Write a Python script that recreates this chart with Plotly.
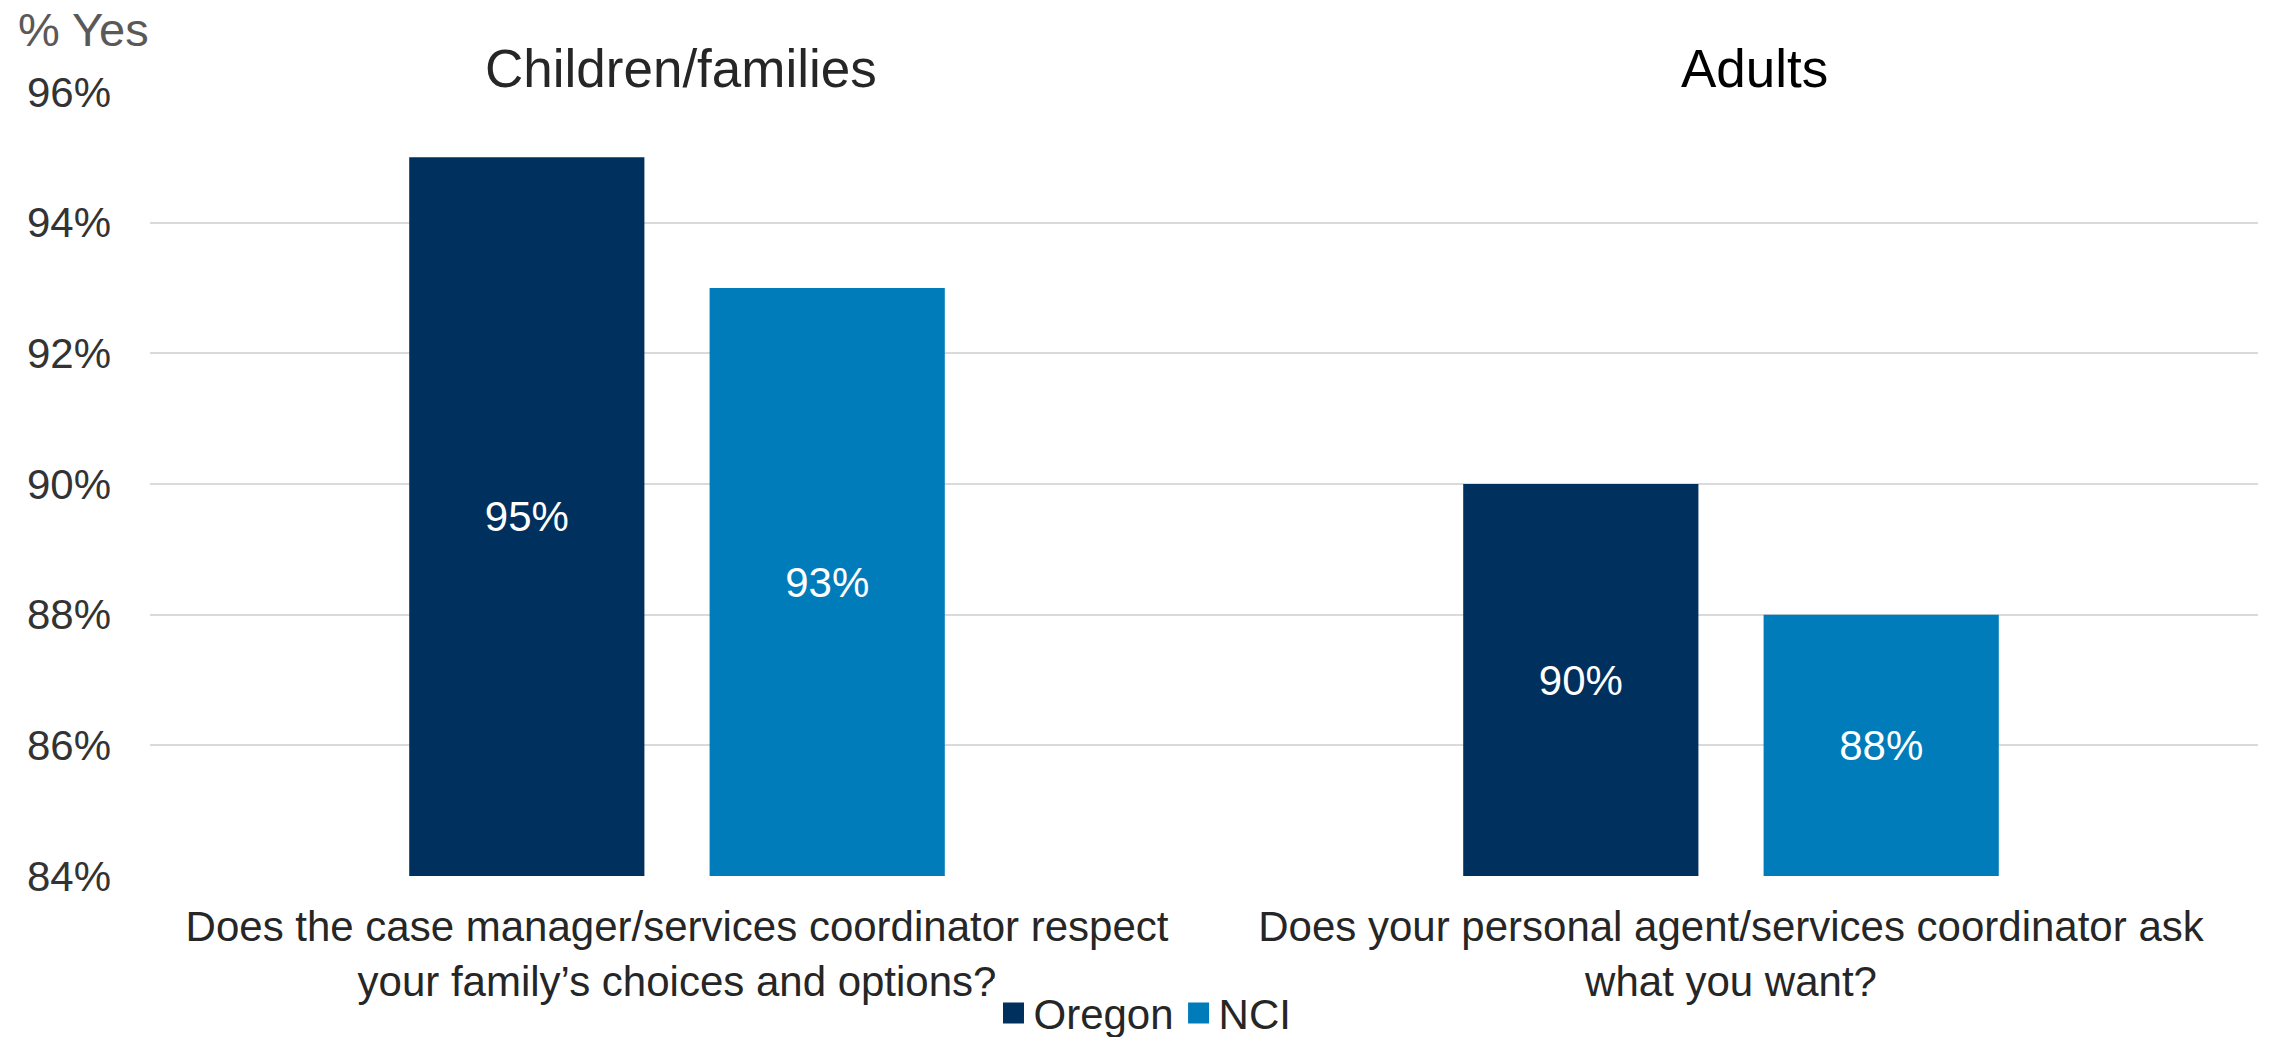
import plotly.graph_objects as go

questions = [
    "Does the case manager/services coordinator respect<br>your family’s choices and options?",
    "Does your personal agent/services coordinator ask<br>what you want?",
]
group_titles = ["Children/families", "Adults"]
series_names = ["Oregon", "NCI"]
oregon_values = [95, 90]
nci_values = [93, 88]
y_min, y_max = 84, 96
y_ticks = [84, 86, 88, 90, 92, 94, 96]
y_title = "% Yes"

colors = {"Oregon": "#00305E", "NCI": "#007CBA"}
FONT = "Liberation Sans, Arial, sans-serif"

fig = go.Figure()
for name, vals in zip(series_names, [oregon_values, nci_values]):
    fig.add_trace(go.Bar(
        x=questions, y=[v - y_min for v in vals], base=y_min, name=name,
        marker=dict(color=colors[name], line=dict(width=0)),
        text=[f"{v}%" for v in vals], textposition="inside", insidetextanchor="middle",
        textfont=dict(family=FONT, size=42, color="white"),
        textangle=0, showlegend=False, hovertemplate="%{x}: " + "%{text}<extra>" + name + "</extra>",
    ))
# legend entries with larger square swatches
for name in series_names:
    fig.add_trace(go.Scatter(
        x=[None], y=[None], mode="markers", name=name,
        marker=dict(symbol="square", size=16, color=colors[name],
                    line=dict(width=6, color=colors[name])),
        showlegend=True,
    ))

for q, t, c, dx in zip(questions, group_titles, ["#262626", "#000000"], [4, 23]):
    fig.add_annotation(x=q, y=y_max, xref="x", yref="y", text=t, showarrow=False,
                       xanchor="center", yanchor="bottom", yshift=-8, xshift=dx,
                       font=dict(family=FONT, size=53, color=c))

fig.add_annotation(x=0, y=1, xref="paper", yref="paper", text=y_title, showarrow=False,
                   xanchor="left", yanchor="middle", xshift=-134, yshift=63,
                   font=dict(family=FONT, size=47, color="#595959"))

fig.update_layout(
    width=2270, height=1037,
    margin=dict(l=150, r=12, t=92, b=161, autoexpand=False),
    paper_bgcolor="white", plot_bgcolor="white",
    barmode="group", bargap=0.43, bargroupgap=0.217,
    font=dict(family=FONT, size=42, color="#404040"),
    showlegend=True,
    legend=dict(orientation="h", x=0.472, xanchor="center", y=-0.175, yanchor="middle",
                font=dict(family=FONT, size=42, color="#262626"),
                itemwidth=30, tracegroupgap=0, traceorder="normal", itemsizing="trace"),
    yaxis=dict(range=[y_min, y_max], tickvals=y_ticks, ticktext=[f"{t}%" for t in y_ticks],
               showgrid=True, gridcolor="#D9D9DE", gridwidth=2, zeroline=False, ticks="",
               ticklabelstandoff=38, showline=False,
               tickfont=dict(family=FONT, size=42, color="#333333")),
    xaxis=dict(showgrid=False, ticks="", showline=False,
               tickfont=dict(family=FONT, size=42, color="#262626"),
               ticklabelstandoff=22),
)

fig.write_html("out.html")
